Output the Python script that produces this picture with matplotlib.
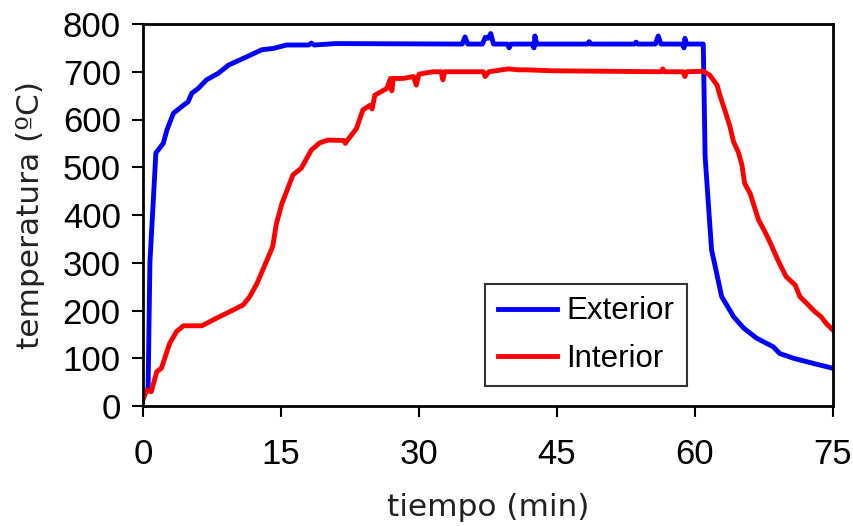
import matplotlib.pyplot as plt

# Exterior temperature (min, degC)
t_ext = [0, 0.55, 0.75, 1.4, 2.2, 2.6, 3.3, 4.4, 4.9, 5.3, 6.0, 6.9, 8.2, 9.3,
         10.9, 12.9, 14.2, 15.6, 18.0, 18.3, 18.6, 21.0, 34.7, 35.0, 35.3, 36.9,
         37.2, 37.5, 37.8, 38.1, 39.6, 39.8, 40.0, 42.3, 42.5, 42.6, 42.8, 48.3,
         48.5, 48.7, 53.4, 53.6, 53.8, 55.7, 56.0, 56.3, 58.6, 58.8, 58.9, 59.1,
         60.9, 61.1, 61.8, 62.2, 62.9, 64.2, 65.3, 66.7, 68.5, 69.2, 70.7, 72.9, 75.0]
T_ext = [33, 33, 300, 530, 550, 578, 613, 630, 637, 655, 665, 683, 697, 714,
         728, 746, 749, 756, 756, 760, 756, 759, 758, 773, 758, 758,
         772, 770, 780, 758, 758, 750, 758, 758, 750, 775, 758, 758,
         763, 758, 758, 762, 758, 758, 775, 758, 758, 750, 770, 758,
         758, 522, 327, 292, 229, 187, 163, 142, 124, 110, 100, 89, 79]

# Interior temperature (min, degC)
t_int = [0, 0.4, 0.9, 1.5, 2.0, 2.9, 3.65, 4.4, 6.4, 6.9, 8.0, 9.8, 10.9, 11.6,
         12.4, 13.4, 14.1, 14.5, 15.1, 16.3, 17.2, 18.3, 19.2, 20.1, 21.8, 22.0,
         22.2, 23.2, 23.9, 24.7, 24.9, 25.2, 26.5, 26.9, 27.05, 27.2, 28.3, 29.4,
         29.7, 30.0, 31.5, 32.4, 32.6, 32.8, 37.0, 37.2, 37.6, 39.7, 40.8, 41.7,
         44.5, 56.3, 56.5, 56.7, 58.7, 58.9, 59.1, 60.9, 61.6, 62.4, 62.7, 63.3,
         63.8, 64.2, 64.7, 65.1, 65.4, 66.0, 66.9, 67.6, 68.2, 69.0, 69.9, 70.9,
         71.4, 72.3, 73.0, 73.7, 74.3, 75.0]
T_int = [13, 33, 30, 72, 79, 131, 156, 168, 168, 173, 184, 201, 212, 229,
         257, 302, 334, 382, 424, 484, 498, 536, 551, 557, 556, 550,
         556, 581, 620, 630, 622, 651, 665, 686, 660, 686, 686, 690,
         672, 695, 700, 700, 683, 700, 700, 690, 700, 706, 704, 704,
         702, 700, 706, 700, 700, 690, 700, 701, 693, 672, 651, 616,
         585, 553, 532, 505, 466, 445, 390, 365, 341, 306, 271, 253,
         229, 212, 198, 187, 172, 159]

x_ticks = [0, 15, 30, 45, 60, 75]
y_ticks = [0, 100, 200, 300, 400, 500, 600, 700, 800]

fig = plt.figure(figsize=(8.54, 5.26), dpi=100)
ax = fig.add_axes([143 / 854, 1 - 406 / 526, 690 / 854, 382 / 526])

ax.plot(t_ext, T_ext, color='#0000ff', lw=3.5, label='Exterior')
ax.plot(t_int, T_int, color='#ff0000', lw=3.5, label='Interior')

ax.set_xlim(0, 75)
ax.set_ylim(0, 800)
ax.set_xticks(x_ticks)
ax.set_yticks(y_ticks)
ax.tick_params(direction='out', length=8, width=1.5, labelsize=25)
ax.tick_params(axis='x', pad=15)
ax.tick_params(axis='y', pad=8)
for lab in ax.get_xticklabels() + ax.get_yticklabels():
    lab.set_family('Liberation Sans')
for s in ax.spines.values():
    s.set_linewidth(2)

ax.set_xlabel('tiempo (min)', fontsize=22.5, family='DejaVu Sans',
              color='#222222', labelpad=16)
ax.set_ylabel('temperatura (ºC)', fontsize=22.5, family='DejaVu Sans',
              color='#222222', labelpad=13)

leg = ax.legend(loc='upper left', bbox_to_anchor=(0.4957, 0.3194),
                borderaxespad=0, frameon=True, fancybox=False,
                edgecolor='black', handlelength=1.9,
                prop={'family': 'Liberation Sans', 'size': 22.5},
                borderpad=0.4, labelspacing=0.55, handletextpad=0.3)
leg.get_frame().set_linewidth(1.5)

fig.savefig('out.png', dpi=100)
